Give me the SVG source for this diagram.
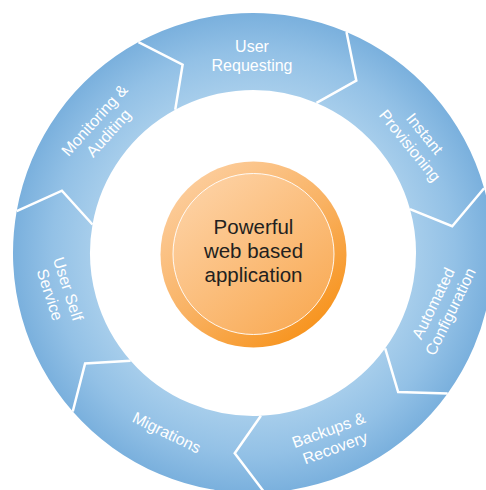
<svg xmlns="http://www.w3.org/2000/svg" width="486" height="490" viewBox="0 0 486 490">
  <defs>
    <radialGradient id="ringGrad" gradientUnits="userSpaceOnUse" cx="253" cy="253" r="240">
      <stop offset="0.679" stop-color="#a6cdeb"/>
      <stop offset="0.84" stop-color="#93c1e6"/>
      <stop offset="1" stop-color="#7ab0dd"/>
    </radialGradient>
    <linearGradient id="outerOrange" x1="0.2" y1="0.1" x2="0.85" y2="0.9">
      <stop offset="0" stop-color="#fccb98"/>
      <stop offset="0.5" stop-color="#f9b263"/>
      <stop offset="1" stop-color="#f7931c"/>
    </linearGradient>
    <linearGradient id="innerOrange" x1="0.2" y1="0.1" x2="0.85" y2="0.9">
      <stop offset="0" stop-color="#fdcf9f"/>
      <stop offset="1" stop-color="#f9ac58"/>
    </linearGradient>
  </defs>
  <style>
    .seg { fill: url(#ringGrad); }
    .sep { fill: none; stroke: #ffffff; stroke-width: 2.5; stroke-linejoin: miter; }
    .lbl { font-family: "Liberation Sans", Arial, Helvetica, sans-serif; font-size: 16px; fill: #ffffff; text-anchor: middle; }
    .ctr { font-family: "Liberation Sans", Arial, Helvetica, sans-serif; font-size: 20.5px; fill: #231f20; text-anchor: middle; }
  </style>

  <g id="user-requesting">
    <path class="seg" d="M138.48,42.08 A240,240 0 0 1 346.51,31.97 L356.31,80.58 L316.51,102.88 A163,163 0 0 0 175.22,109.75 L182.61,64.73 Z"/>
    <g transform="translate(252,55)">
      <text class="lbl" y="-3">User</text>
      <text class="lbl" y="16">Requesting</text>
    </g>
  </g>

  <g id="instant-provisioning">
    <path class="seg" d="M346.51,31.97 A240,240 0 0 1 484.11,188.28 L452.21,226.27 L409.96,209.05 A163,163 0 0 0 316.51,102.88 L356.31,80.58 Z"/>
    <g transform="translate(418,139) rotate(51)">
      <text class="lbl" y="-3">Instant</text>
      <text class="lbl" y="16">Provisioning</text>
    </g>
  </g>

  <g id="automated-configuration">
    <path class="seg" d="M484.11,188.28 A240,240 0 0 1 447.65,393.39 L398.15,392.04 L385.20,348.35 A163,163 0 0 0 409.96,209.05 L452.21,226.27 Z"/>
    <g transform="translate(441,307) rotate(-64)">
      <text class="lbl" y="-3">Automated</text>
      <text class="lbl" y="16">Configuration</text>
    </g>
  </g>

  <g id="backups-recovery">
    <path class="seg" d="M447.65,393.39 A240,240 0 0 1 264.66,492.72 L234.73,453.17 L260.92,415.81 A163,163 0 0 0 385.20,348.35 L398.15,392.04 Z"/>
    <g transform="translate(331.5,438) rotate(-20)">
      <text class="lbl" y="-3">Backups &amp;</text>
      <text class="lbl" y="16">Recovery</text>
    </g>
  </g>

  <g id="migrations">
    <path class="seg" d="M264.66,492.72 A240,240 0 0 1 72.76,411.47 L85.09,363.49 L130.58,360.63 A163,163 0 0 0 260.92,415.81 L234.73,453.17 Z"/>
    <g transform="translate(166.5,433) rotate(26)">
      <text class="lbl" y="5">Migrations</text>
    </g>
  </g>

  <g id="user-self-service">
    <path class="seg" d="M72.76,411.47 A240,240 0 0 1 16.70,211.03 L61.92,190.66 L92.51,224.50 A163,163 0 0 0 130.58,360.63 L85.09,363.49 Z"/>
    <g transform="translate(60,291.5) rotate(72)">
      <text class="lbl" y="-3">User Self</text>
      <text class="lbl" y="16">Service</text>
    </g>
  </g>

  <g id="monitoring-auditing">
    <path class="seg" d="M16.70,211.03 A240,240 0 0 1 138.48,42.08 L182.61,64.73 L175.22,109.75 A163,163 0 0 0 92.51,224.50 L61.92,190.66 Z"/>
    <g transform="translate(100.75,126) rotate(-48)">
      <text class="lbl" y="-3">Monitoring &amp;</text>
      <text class="lbl" y="16">Auditing</text>
    </g>
  </g>

  <g id="connectors">
    <polyline class="sep" points="138.48,42.08 182.61,64.73 175.22,109.75"/>
    <polyline class="sep" points="346.51,31.97 356.31,80.58 316.51,102.88"/>
    <polyline class="sep" points="484.11,188.28 452.21,226.27 409.96,209.05"/>
    <polyline class="sep" points="447.65,393.39 398.15,392.04 385.20,348.35"/>
    <polyline class="sep" points="264.66,492.72 234.73,453.17 260.92,415.81"/>
    <polyline class="sep" points="72.76,411.47 85.09,363.49 130.58,360.63"/>
    <polyline class="sep" points="16.70,211.03 61.92,190.66 92.51,224.50"/>
  </g>

  <g id="center">
    <circle cx="253.5" cy="254.5" r="93" fill="url(#outerOrange)"/>
    <circle cx="253.5" cy="254" r="80.5" fill="url(#innerOrange)" stroke="#ffffff" stroke-opacity="0.9" stroke-width="1"/>
    <text class="ctr" x="253.5" y="234">Powerful</text>
    <text class="ctr" x="253.5" y="258">web based</text>
    <text class="ctr" x="253.5" y="282">application</text>
  </g>
</svg>
